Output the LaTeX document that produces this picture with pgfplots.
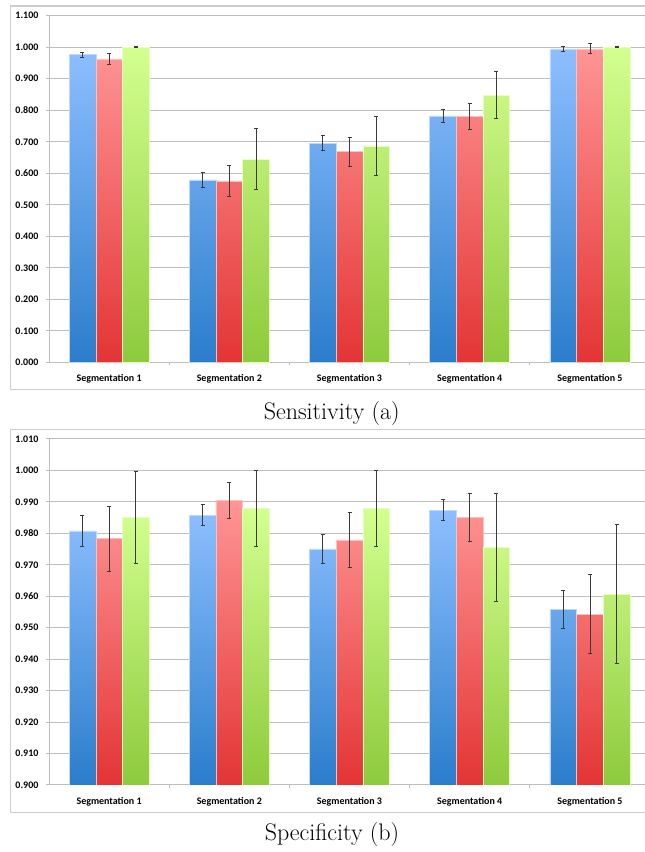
\documentclass[border=0pt]{standalone}
\usepackage{pgfplots}
\usepackage{pgfplotstable}
\pgfplotsset{compat=1.18}
\usepackage{fontspec}
\newfontfamily\carlito{Carlito}

\definecolor{blueT}{HTML}{8DBFFF}
\definecolor{blueB}{HTML}{2A7DCB}
\definecolor{redT}{HTML}{FF9595}
\definecolor{redB}{HTML}{E33434}
\definecolor{greenT}{HTML}{D3FF8F}
\definecolor{greenB}{HTML}{8DCA3C}
\definecolor{gridc}{HTML}{BEBEBE}
\definecolor{framec}{HTML}{CDCDCD}
\definecolor{errc}{HTML}{3A3A3A}

% Sensitivity
\pgfplotstableread{
x y e
0 0.977 0.008
1 0.579 0.025
2 0.696 0.024
3 0.782 0.021
4 0.995 0.007
}\senA
\pgfplotstableread{
x y e
0 0.963 0.018
1 0.576 0.050
2 0.669 0.046
3 0.780 0.041
4 0.995 0.016
}\senB
\pgfplotstableread{
x y e
0 1.000 0.001
1 0.645 0.097
2 0.687 0.094
3 0.848 0.075
4 1.000 0.001
}\senC
% Specificity
\pgfplotstableread{
x y e
0 0.9808 0.0048
1 0.9858 0.0034
2 0.9751 0.0045
3 0.9874 0.0033
4 0.9559 0.0061
}\speA
\pgfplotstableread{
x y e
0 0.9783 0.0103
1 0.9904 0.0057
2 0.9779 0.0087
3 0.9850 0.0076
4 0.9543 0.0125
}\speB
\pgfplotstableread{
x y e
0 0.9851 0.0147
1 0.9879 0.0121
2 0.9879 0.0121
3 0.9756 0.0171
4 0.9607 0.0222
}\speC

\pgfplotsset{
  segaxis/.style={
    scale only axis,
    width=450.75pt,
    anchor=south west,
    xmin=-0.5, xmax=4.5,
    enlargelimits=false,
    ybar=0pt, bar width=20pt,
    xtick={0.5,1.5,2.5,3.5},
    xticklabels={},
    extra x ticks={0,1,2,3,4},
    extra x tick labels={Segmentation 1,Segmentation 2,Segmentation 3,Segmentation 4,Segmentation 5},
    extra x tick style={major tick length=0pt, grid=none,
      tick label style={anchor=base, yshift=-14.4pt}},
    tick align=outside,
    major tick length=2.2pt,
    tick style={gridc, line width=0.75pt},
    ymajorgrids,
    grid style={gridc, line width=0.75pt},
    axis x line*=bottom,
    axis y line*=left,
    axis line style={gridc, line width=0.75pt},
    tick label style={font=\carlito\bfseries\fontsize{7.5}{9}\selectfont, text=black},
    yticklabel style={xshift=-2.2pt},
  },
  eb/.style={
    error bars/y dir=both,
    error bars/y explicit,
    error bars/error bar style={line width=0.6pt, errc},
    error bars/error mark options={rotate=90, mark size=1.5pt, line width=0.6pt, errc},
  },
  barA/.style={eb, top color=blueT, bottom color=blueB, draw=blueT!60!white, line width=0.4pt},
  barB/.style={eb, top color=redT, bottom color=redB, draw=redT!60!white, line width=0.4pt},
  barC/.style={eb, top color=greenT, bottom color=greenB, draw=greenT!60!white, line width=0.4pt},
}

\begin{document}
\begin{tikzpicture}
\begin{scope}
\clip (0,0) rectangle (483.75pt,639pt);
% frames
\draw[framec, line width=0.9pt] (8pt,346.9pt) rectangle (500pt,634.5pt);
\draw[framec, line width=0.9pt] (8pt,29.5pt) rectangle (500pt,316.9pt);

\begin{axis}[segaxis,
  at={(36.75pt,367.125pt)},
  height=260.1pt,
  ymin=0, ymax=1.1,
  ytick={0,0.1,0.2,0.3,0.4,0.5,0.6,0.7,0.8,0.9,1.0,1.1},
  yticklabels={0.000,0.100,0.200,0.300,0.400,0.500,0.600,0.700,0.800,0.900,1.000,1.100},
]
\addplot[barA] table[x=x, y=y, y error=e] {\senA};
\addplot[barB] table[x=x, y=y, y error=e] {\senB};
\addplot[barC] table[x=x, y=y, y error=e] {\senC};
\end{axis}

\begin{axis}[segaxis,
  at={(36.75pt,50.25pt)},
  height=259.5pt,
  ymin=0, ymax=0.11,
  ytick={0,0.01,0.02,0.03,0.04,0.05,0.06,0.07,0.08,0.09,0.10,0.11},
  yticklabels={0.900,0.910,0.920,0.930,0.940,0.950,0.960,0.970,0.980,0.990,1.000,1.010},
]
\addplot[barA] table[x=x, y expr=\thisrow{y}-0.9, y error=e] {\speA};
\addplot[barB] table[x=x, y expr=\thisrow{y}-0.9, y error=e] {\speB};
\addplot[barC] table[x=x, y expr=\thisrow{y}-0.9, y error=e] {\speC};
\end{axis}

\node[anchor=base, font=\fontsize{18}{20}\selectfont] at (248.8pt,324.5pt) {Sensitivity (a)};
\node[anchor=base, font=\fontsize{18}{20}\selectfont] at (249pt,9pt) {Specificity (b)};
\end{scope}
\pgfresetboundingbox
\useasboundingbox (0,0) rectangle (483.75pt,639pt);
\end{tikzpicture}
\end{document}
